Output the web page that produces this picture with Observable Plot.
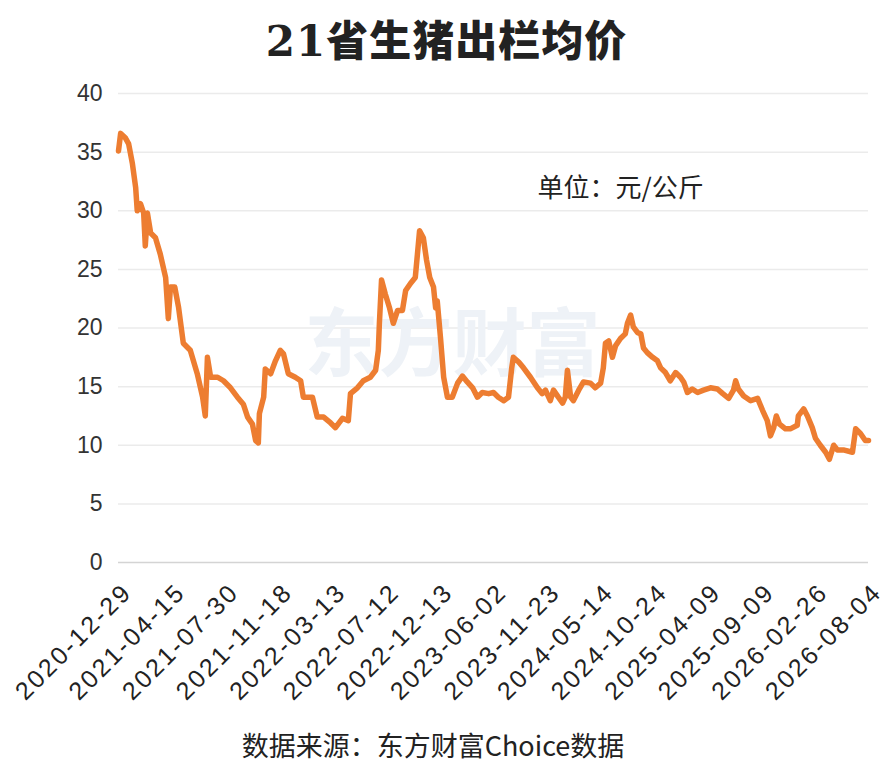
<!DOCTYPE html>
<html>
<head>
<meta charset="utf-8">
<script src="https://cdn.jsdelivr.net/npm/d3@7"></script>
<script src="https://cdn.jsdelivr.net/npm/@observablehq/plot@0.6"></script>
<style>
  html, body { margin: 0; padding: 0; background: #fff; }
  #wrap { position: relative; width: 893px; height: 771px; overflow: hidden; }
  #title { position: absolute; left: 0; top: 0; width: 893px; height: 75px; line-height: 75px; text-align: center;
    font-family: "DejaVu Serif", "Noto Sans CJK SC", serif; font-weight: 900; font-size: 42px; color: #222; letter-spacing: 1px; }
  #title span.cjk { font-family: "Noto Sans CJK SC", sans-serif; font-weight: 900; }
  #chart { position: absolute; left: 0; top: 75px; }
  #caption { position: absolute; left: 0; top: 728px; width: 866px; text-align: center; line-height: 34px;
    font-family: "Noto Sans CJK SC", "Liberation Sans", sans-serif; font-size: 27px; color: #222; }
</style>
</head>
<body>
<div id="wrap">
  <div id="title">21<span class="cjk">省生猪出栏均价</span></div>
  <div id="chart"></div>
  <div id="caption">数据来源：东方财富Choice数据</div>
</div>
<script>
// Observation index (each labelled period spans 100 observations) and price (元/公斤)
const obsIndex = [0,4,13,19,26,32,35,41,47,50,54,60,69,78,88,93,97,105,112,121,134,147,157,162,166,172,185,196,209,222,233,241,250,256,261,263,271,274,284,293,302,308,317,330,340,345,353,362,371,383,396,405,418,429,433,446,457,470,480,485,487,491,498,506,513,521,530,536,545,554,558,562,569,575,581,588,592,595,601,607,614,623,633,642,651,661,670,679,691,700,709,719,728,734,737,747,756,769,782,791,797,806,812,821,829,834,838,844,849,859,868,881,890,900,905,909,915,922,928,937,946,950,956,961,969,975,980,987,997,1006,1012,1021,1030,1040,1049,1055,1062,1071,1081,1092,1105,1118,1128,1139,1148,1152,1157,1167,1180,1193,1202,1211,1217,1223,1228,1234,1245,1254,1267,1269,1279,1286,1295,1301,1310,1320,1327,1335,1342,1353,1370,1376,1385,1394,1400];
const price = [35.1,36.6,36.2,35.7,34.0,32.0,30.0,30.6,29.8,27.0,29.8,28.1,27.7,26.3,24.3,20.8,23.5,23.5,21.8,18.7,18.1,16.1,14.1,12.5,17.5,15.8,15.8,15.5,14.9,14.1,13.5,12.4,11.8,10.4,10.2,12.7,14.1,16.5,16.1,17.2,18.1,17.8,16.1,15.8,15.5,14.1,14.1,14.1,12.4,12.4,11.9,11.5,12.3,12.1,14.4,14.9,15.5,15.8,16.4,18.1,20.4,24.1,22.9,21.7,20.4,21.5,21.5,23.2,23.8,24.3,26.3,28.3,27.7,25.8,24.3,23.5,21.7,22.3,19.2,15.8,14.1,14.1,15.3,15.9,15.4,14.9,14.1,14.5,14.4,14.5,14.1,13.8,14.1,16.6,17.5,17.1,16.6,15.8,14.9,14.4,14.7,13.8,14.7,14.1,13.6,14.1,16.4,14.1,13.8,14.7,15.4,15.3,14.9,15.3,16.6,18.7,18.9,17.5,18.5,19.1,19.5,20.4,21.1,20.1,19.6,19.5,18.3,17.9,17.5,17.2,16.6,16.2,15.5,16.2,15.8,15.4,14.5,14.8,14.5,14.7,14.9,14.8,14.4,14.0,14.7,15.5,14.8,14.2,13.8,14.0,13.0,12.1,10.8,11.5,12.5,11.8,11.4,11.4,11.7,12.5,13.1,12.5,11.5,10.6,10.0,9.4,8.8,10.0,9.6,9.6,9.4,11.4,11.0,10.4,10.4];
const tickLabels = ["2020-12-29","2021-04-15","2021-07-30","2021-11-18","2022-03-13","2022-07-12","2022-12-13","2023-06-02","2023-11-23","2024-05-14","2024-10-24","2025-04-09","2025-09-09","2026-02-26","2026-08-04"];
const yTicks = [0,5,10,15,20,25,30,35,40];
const unitLabel = "单位：元/公斤";
const watermark = "东方财富";

const series = obsIndex.map((x, i) => ({x, y: price[i]}));
const ticks = tickLabels.map((label, i) => ({x: i * 100, label}));

const chart = Plot.plot({
  width: 893,
  height: 640,
  marginLeft: 118,
  marginRight: 25,
  marginTop: 18,
  marginBottom: 153,
  style: { fontFamily: "'Liberation Sans', Arial, sans-serif", background: "#fff" },
  x: { domain: [0, 1400], axis: null },
  y: { domain: [0, 40], ticks: yTicks, label: null },
  marks: [
    Plot.gridY(yTicks.filter(d => d > 0), { stroke: "#ebebeb", strokeOpacity: 1, strokeWidth: 1.5 }),
    Plot.ruleY([0], { stroke: "#d4d4d4", strokeWidth: 1.5 }),
    Plot.text([watermark], { frameAnchor: "middle", dx: -41, dy: 18, text: d => d, fontSize: 74, fontWeight: "bold",
      fill: "#eef2f7", fontFamily: "'Noto Sans CJK SC', sans-serif" }),
    Plot.axisY({ ticks: yTicks, tickSize: 0, tickPadding: 16, fontSize: 23, color: "#333", label: null }),
    Plot.text(ticks, { x: "x", frameAnchor: "bottom", text: "label", rotate: -45, textAnchor: "end",
      dx: 13, dy: 33, fontSize: 25, fill: "#222" }),
    Plot.text([unitLabel], { frameAnchor: "top-left", text: d => d, dx: 419, dy: 85, textAnchor: "start",
      fontSize: 26, fill: "#222", fontFamily: "'Noto Sans CJK SC', sans-serif" }),
    Plot.line(series, { x: "x", y: "y", stroke: "#ED7D31", strokeWidth: 5.5, strokeLinejoin: "round", strokeLinecap: "round" })
  ]
});
d3.select(chart).selectAll("text")
  .filter(function () { return tickLabels.includes(this.textContent); })
  .attr("textLength", 150).attr("lengthAdjust", "spacing");
document.getElementById("chart").appendChild(chart);
</script>
</body>
</html>
